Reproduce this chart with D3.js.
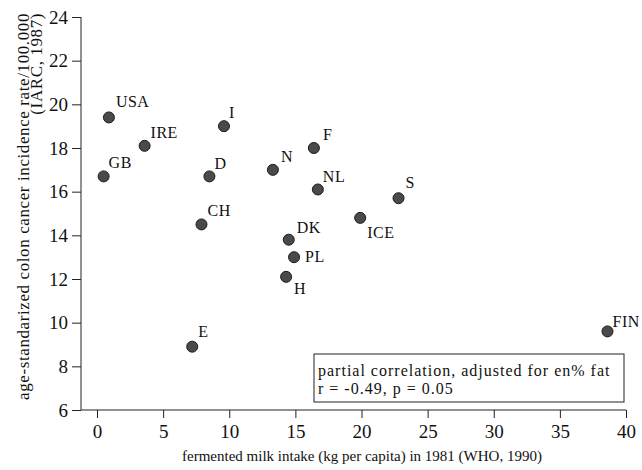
<!DOCTYPE html>
<html>
<head>
<meta charset="utf-8">
<script src="https://cdn.jsdelivr.net/npm/d3@7"></script>
<style>
  body { margin: 0; background: #fff; }
  svg { font-family: "Liberation Serif", "Times New Roman", serif; }
</style>
</head>
<body>
<svg width="642" height="470"></svg>
<script>
// data
var countries = ["USA", "IRE", "GB", "I", "D", "N", "F", "NL", "CH", "DK", "PL", "H", "ICE", "S", "E", "FIN"];
var milkIntake = [0.9, 3.6, 0.5, 9.6, 8.5, 13.3, 16.4, 16.7, 7.9, 14.5, 14.9, 14.3, 19.9, 22.8, 7.2, 38.6];
var cancerRate = [19.4, 18.1, 16.7, 19.0, 16.7, 17.0, 18.0, 16.1, 14.5, 13.8, 13.0, 12.1, 14.8, 15.7, 8.9, 9.6];
var xTicks = [0, 5, 10, 15, 20, 25, 30, 35, 40];
var yTicks = [6, 8, 10, 12, 14, 16, 18, 20, 22, 24];

// label placement relative to the dot
var labelOffset = {
  USA: [7, -10], IRE: [6, -8], GB: [5, -8], I: [5, -8], D: [5, -7], N: [8, -8],
  F: [9, -8], NL: [5, -7], CH: [6, -8], DK: [8, -7], PL: [11, 5], H: [8, 17],
  ICE: [7, 20], S: [7, -10], E: [6, -10], FIN: [5, -4]
};

var svg = d3.select("svg");
var axisX0 = 81, axisY0 = 410;

var x = d3.scaleLinear().domain([0, 40]).range([97, 626]);
var y = d3.scaleLinear().domain([6, 24]).range([410, 17]);

// y axis
var gy = svg.append("g")
    .attr("transform", "translate(" + axisX0 + ",0)")
    .call(d3.axisLeft(y).tickValues(yTicks).tickSize(9).tickPadding(4).tickSizeOuter(0));
gy.select(".domain").remove();
gy.selectAll("text").attr("font-size", 19).attr("font-family", "Liberation Serif").attr("fill", "#111");
gy.selectAll("line").attr("stroke", "#222");

// x axis
var gx = svg.append("g")
    .attr("transform", "translate(0," + axisY0 + ")")
    .call(d3.axisBottom(x).tickValues(xTicks).tickSize(8).tickPadding(7).tickSizeOuter(0));
gx.select(".domain").remove();
gx.selectAll("text").attr("font-size", 19).attr("font-family", "Liberation Serif").attr("fill", "#111");
gx.selectAll("line").attr("stroke", "#222");

// axis lines
svg.append("line")
    .attr("x1", axisX0).attr("x2", axisX0)
    .attr("y1", y(24)).attr("y2", axisY0)
    .attr("stroke", "#222");
svg.append("line")
    .attr("x1", axisX0).attr("x2", x(40))
    .attr("y1", axisY0).attr("y2", axisY0)
    .attr("stroke", "#222");

// axis titles
svg.append("text")
    .attr("x", 362).attr("y", 461)
    .attr("text-anchor", "middle")
    .attr("font-size", 15)
    .attr("fill", "#111")
    .text("fermented milk intake (kg per capita) in 1981 (WHO, 1990)");

var yt = svg.append("text")
    .attr("transform", "translate(29,13) rotate(-90)")
    .attr("text-anchor", "end")
    .attr("font-size", 17)
    .attr("letter-spacing", 0.6)
    .attr("fill", "#111");
yt.append("tspan").attr("x", 0).attr("y", 0)
    .text("age-standarized colon cancer incidence rate/100.000");
yt.append("tspan").attr("x", 0).attr("y", 13)
    .text("(IARC, 1987)");

// points
var pts = countries.map(function(c, i) {
  return {name: c, x: milkIntake[i], y: cancerRate[i]};
});

svg.append("g").selectAll("circle")
    .data(pts)
    .enter().append("circle")
    .attr("cx", function(d) { return x(d.x); })
    .attr("cy", function(d) { return y(d.y); })
    .attr("r", 5.5)
    .attr("fill", "#4a4a4a")
    .attr("stroke", "#1a1a1a")
    .attr("stroke-width", 1);

svg.append("g").selectAll("text")
    .data(pts)
    .enter().append("text")
    .attr("x", function(d) { return x(d.x) + labelOffset[d.name][0]; })
    .attr("y", function(d) { return y(d.y) + labelOffset[d.name][1]; })
    .attr("font-size", 16)
    .attr("letter-spacing", 0.5)
    .attr("fill", "#111")
    .text(function(d) { return d.name; });

// annotation box
var box = svg.append("g");
box.append("rect")
    .attr("x", 314).attr("y", 354)
    .attr("width", 310).attr("height", 48)
    .attr("fill", "#fff")
    .attr("stroke", "#222");
box.append("text")
    .attr("x", 318).attr("y", 376)
    .attr("font-size", 16)
    .attr("letter-spacing", 1)
    .attr("fill", "#111")
    .text("partial correlation, adjusted for en% fat");
box.append("text")
    .attr("x", 318).attr("y", 394)
    .attr("font-size", 16)
    .attr("letter-spacing", 1)
    .attr("fill", "#111")
    .text("r = -0.49, p = 0.05");
</script>
</body>
</html>
